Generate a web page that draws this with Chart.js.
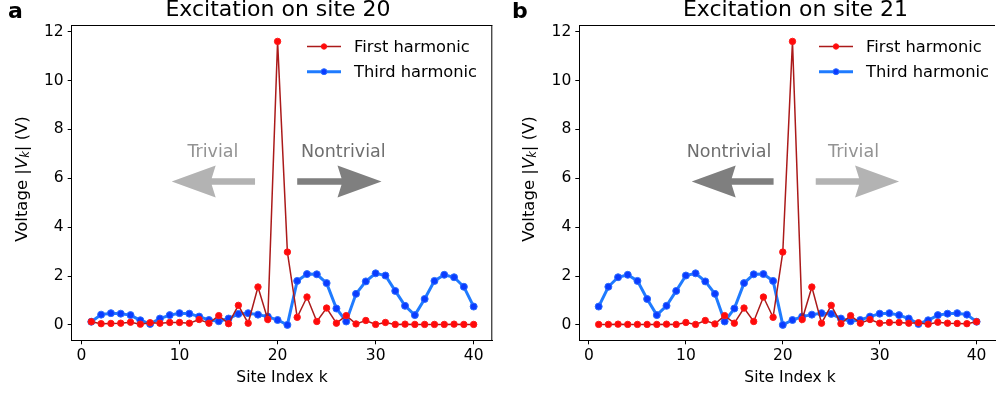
<!DOCTYPE html>
<html>
<head>
<meta charset="utf-8">
<script src="https://cdn.jsdelivr.net/npm/chart.js@4.4.1/dist/chart.umd.min.js"></script>
<style>
  html, body { margin: 0; padding: 0; background: #fff; }
  #wrap { position: relative; width: 1000px; height: 393px; overflow: hidden; }
  .panel { position: absolute; top: 0; width: 500px; height: 393px; }
</style>
</head>
<body>
<div id="wrap">
  <div class="panel" style="left:0"><canvas id="chartA" width="500" height="393"></canvas></div>
  <div class="panel" style="left:500px"><canvas id="chartB" width="500" height="393"></canvas></div>
</div>
<script>
// site index k
const sites = [1, 2, 3, 4, 5, 6, 7, 8, 9, 10, 11, 12, 13, 14, 15, 16, 17, 18, 19, 20,
  21, 22, 23, 24, 25, 26, 27, 28, 29, 30, 31, 32, 33, 34, 35, 36, 37, 38, 39, 40];

// excitation on site 20
const firstHarmonicA = [0.13, 0.05, 0.06, 0.07, 0.11, 0.03, 0.09, 0.07, 0.1, 0.1,
  0.07, 0.22, 0.07, 0.38, 0.05, 0.8, 0.07, 1.55, 0.22, 11.6,
  2.98, 0.31, 1.14, 0.14, 0.69, 0.07, 0.38, 0.04, 0.18, 0.02,
  0.1, 0.02, 0.03, 0.02, 0.02, 0.02, 0.02, 0.03, 0.02, 0.02];
const thirdHarmonicA = [0.13, 0.42, 0.48, 0.46, 0.4, 0.19, 0.04, 0.26, 0.4, 0.48,
  0.46, 0.34, 0.2, 0.15, 0.26, 0.45, 0.48, 0.42, 0.34, 0.2,
  0.0, 1.8, 2.08, 2.07, 1.71, 0.67, 0.14, 1.27, 1.78, 2.11,
  2.02, 1.39, 0.78, 0.4, 1.06, 1.8, 2.05, 1.95, 1.56, 0.75];

// excitation on site 21
const firstHarmonicB = [0.02, 0.02, 0.03, 0.02, 0.02, 0.02, 0.02, 0.03, 0.02, 0.1,
  0.02, 0.18, 0.04, 0.38, 0.07, 0.69, 0.14, 1.14, 0.31, 2.98,
  11.6, 0.22, 1.55, 0.07, 0.8, 0.05, 0.38, 0.07, 0.22, 0.07,
  0.1, 0.1, 0.07, 0.09, 0.03, 0.11, 0.07, 0.06, 0.05, 0.13];
const thirdHarmonicB = [0.75, 1.56, 1.95, 2.05, 1.8, 1.06, 0.4, 0.78, 1.39, 2.02,
  2.11, 1.78, 1.27, 0.14, 0.67, 1.71, 2.07, 2.08, 1.8, 0.0,
  0.2, 0.34, 0.42, 0.48, 0.45, 0.26, 0.15, 0.2, 0.34, 0.46,
  0.48, 0.4, 0.26, 0.04, 0.19, 0.4, 0.46, 0.48, 0.42, 0.13];

const xTicks = [0, 10, 20, 30, 40];
const yTicks = [0, 2, 4, 6, 8, 10, 12];
const seriesNames = ["First harmonic", "Third harmonic"];

const FONT = "'DejaVu Sans', Verdana, sans-serif";

const STYLE_FIRST = {
  line: "#ab1a1a", width: 1.5, fill: "#ff0a0a", edge: "#ff1a1a", radius: 3.2,
};
const STYLE_THIRD = {
  line: "#1f7bff", width: 3, fill: "#0a3cff", edge: "#2a6cff", radius: 3.5,
};

function toPoints(values) {
  return sites.map((k, i) => ({ x: k, y: values[i] }));
}

/**
 * 矢印を描く（tipX > tailX なら右向き）
 */
function drawArrow(ctx, tailX, tipX, cy, color) {
  const dir = tipX > tailX ? 1 : -1;
  const headLen = 44;
  const headHalf = 16;
  const shaftHalf = 3.3;
  const base = tipX - dir * headLen;
  ctx.save();
  ctx.fillStyle = color;
  ctx.beginPath();
  ctx.moveTo(tailX, cy - shaftHalf);
  ctx.lineTo(base + dir * 4, cy - shaftHalf);
  ctx.lineTo(base, cy - headHalf);
  ctx.lineTo(tipX, cy);
  ctx.lineTo(base, cy + headHalf);
  ctx.lineTo(base + dir * 4, cy + shaftHalf);
  ctx.lineTo(tailX, cy + shaftHalf);
  ctx.closePath();
  ctx.fill();
  ctx.restore();
}

// 枠、タイトル、凡例、矢印、軸ラベルを描くプラグイン
const decorPlugin = {
  id: "decor",
  afterDraw(chart, args, opts) {
    const ctx = chart.ctx;
    const area = chart.chartArea;
    const xs = chart.scales.x;
    const ys = chart.scales.y;

    // top / right spines
    ctx.save();
    ctx.strokeStyle = "#000";
    ctx.lineWidth = 1;
    ctx.beginPath();
    ctx.moveTo(area.left, area.top + 0.5);
    ctx.lineTo(area.right, area.top + 0.5);
    if (opts.rightSpine) {
      ctx.moveTo(area.right - 0.5, area.top);
      ctx.lineTo(area.right - 0.5, area.bottom);
    }
    ctx.stroke();
    ctx.restore();

    // arrows + labels
    opts.arrows.forEach((a) => {
      const cy = ys.getPixelForValue(a.y);
      drawArrow(ctx, xs.getPixelForValue(a.tail), xs.getPixelForValue(a.tip), cy, a.color);
      ctx.save();
      ctx.fillStyle = a.textColor;
      ctx.font = "17.5px " + FONT;
      ctx.textAlign = "center";
      ctx.textBaseline = "middle";
      ctx.fillText(a.text, xs.getPixelForValue(a.textX), ys.getPixelForValue(a.textY));
      ctx.restore();
    });

    // legend
    const styles = [STYLE_FIRST, STYLE_THIRD];
    seriesNames.forEach((name, i) => {
      const s = styles[i];
      const y = opts.legend.y + i * 25.2;
      const x0 = opts.legend.x;
      ctx.save();
      ctx.strokeStyle = s.line;
      ctx.lineWidth = s.width;
      ctx.beginPath();
      ctx.moveTo(x0, y);
      ctx.lineTo(x0 + 34, y);
      ctx.stroke();
      ctx.fillStyle = s.fill;
      ctx.strokeStyle = s.edge;
      ctx.lineWidth = 1;
      ctx.beginPath();
      ctx.arc(x0 + 17, y, s.radius - 0.5, 0, Math.PI * 2);
      ctx.fill();
      ctx.stroke();
      ctx.fillStyle = "#000";
      ctx.font = "16.3px " + FONT;
      ctx.textAlign = "left";
      ctx.textBaseline = "middle";
      ctx.fillText(name, x0 + 47, y + 1);
      ctx.restore();
    });

    // title and panel letter
    ctx.save();
    ctx.fillStyle = "#000";
    ctx.font = "22px " + FONT;
    ctx.textAlign = "center";
    ctx.textBaseline = "alphabetic";
    ctx.fillText(opts.title, opts.titleX, 16);
    ctx.font = "bold 22px " + FONT;
    ctx.textAlign = "left";
    ctx.fillText(opts.letter, opts.letterX, 18);
    ctx.restore();

    // x axis label
    ctx.save();
    ctx.fillStyle = "#000";
    ctx.font = "15.5px " + FONT;
    ctx.textAlign = "center";
    ctx.textBaseline = "alphabetic";
    ctx.fillText("Site Index k", opts.xLabelX, 381.5);
    ctx.restore();

    // y axis label: Voltage |V_k| (V)
    ctx.save();
    ctx.translate(opts.yLabelX, 179);
    ctx.rotate(-Math.PI / 2);
    ctx.fillStyle = "#000";
    ctx.textBaseline = "middle";
    const parts = [
      { t: "Voltage |", f: "16.5px " + FONT, dy: 0 },
      { t: "V", f: "italic 16.5px " + FONT, dy: 0 },
      { t: "k", f: "italic 11.5px " + FONT, dy: 3.5 },
      { t: "| (V)", f: "16.5px " + FONT, dy: 0 },
    ];
    let total = 0;
    parts.forEach((p) => {
      ctx.font = p.f;
      p.w = ctx.measureText(p.t).width;
      total += p.w;
    });
    let x = -total / 2;
    parts.forEach((p) => {
      ctx.font = p.f;
      ctx.textAlign = "left";
      ctx.fillText(p.t, x, p.dy);
      x += p.w;
    });
    ctx.restore();
  },
};

function makeChart(canvasId, firstValues, thirdValues, axisLeft, padRight, decor) {
  const canvas = document.getElementById(canvasId);
  if (!canvas) return;
  const ctx = canvas.getContext("2d");
  return new Chart(ctx, {
    type: "line",
    data: {
      datasets: [
        {
          label: seriesNames[0],
          data: toPoints(firstValues),
          borderColor: STYLE_FIRST.line,
          borderWidth: STYLE_FIRST.width,
          pointBackgroundColor: STYLE_FIRST.fill,
          pointBorderColor: STYLE_FIRST.edge,
          pointBorderWidth: 1,
          pointRadius: STYLE_FIRST.radius,
          tension: 0,
        },
        {
          label: seriesNames[1],
          data: toPoints(thirdValues),
          borderColor: STYLE_THIRD.line,
          borderWidth: STYLE_THIRD.width,
          pointBackgroundColor: STYLE_THIRD.fill,
          pointBorderColor: STYLE_THIRD.edge,
          pointBorderWidth: 1,
          pointRadius: STYLE_THIRD.radius,
          tension: 0,
        },
      ],
    },
    options: {
      responsive: false,
      animation: false,
      devicePixelRatio: 1,
      layout: { padding: { left: 0, top: 25, right: padRight, bottom: 0 } },
      scales: {
        x: {
          type: "linear",
          min: -1,
          max: 41.9,
          afterBuildTicks: (s) => { s.ticks = xTicks.map((v) => ({ value: v })); },
          afterFit: (s) => { s.height = 52.7; },
          grid: { drawOnChartArea: false, drawTicks: true, tickLength: 4, color: "#000" },
          border: { display: true, color: "#000", width: 1 },
          ticks: { color: "#000", font: { family: FONT, size: 15.5 }, padding: 2, maxRotation: 0 },
        },
        y: {
          type: "linear",
          min: -0.63,
          max: 12.27,
          afterBuildTicks: (s) => { s.ticks = yTicks.map((v) => ({ value: v })); },
          afterFit: (s) => { s.width = axisLeft; },
          grid: { drawOnChartArea: false, drawTicks: true, tickLength: 4, color: "#000" },
          border: { display: true, color: "#000", width: 1 },
          ticks: { color: "#000", font: { family: FONT, size: 15.5 }, padding: 4 },
        },
      },
      plugins: {
        legend: { display: false },
        tooltip: { enabled: false },
        decor: decor,
      },
    },
    plugins: [decorPlugin],
  });
}

window.chartA = makeChart("chartA", firstHarmonicA, thirdHarmonicA, 71.7, 7.7, {
  title: "Excitation on site 20",
  titleX: 278,
  letter: "a",
  letterX: 8,
  xLabelX: 282,
  yLabelX: 23,
  rightSpine: true,
  legend: { x: 307, y: 46.5 },
  arrows: [
    { tail: 17.7, tip: 9.2, y: 5.87, color: "#b3b3b3", text: "Trivial", textX: 13.4, textY: 7.07, textColor: "#939393" },
    { tail: 22.0, tip: 30.6, y: 5.87, color: "#7f7f7f", text: "Nontrivial", textX: 26.7, textY: 7.07, textColor: "#6e6e6e" },
  ],
});

window.chartB = makeChart("chartB", firstHarmonicB, thirdHarmonicB, 79.3, 0, {
  title: "Excitation on site 21",
  titleX: 295.5,
  letter: "b",
  letterX: 12,
  xLabelX: 290,
  yLabelX: 30,
  rightSpine: false,
  legend: { x: 319, y: 46.5 },
  arrows: [
    { tail: 19.05, tip: 10.6, y: 5.87, color: "#7f7f7f", text: "Nontrivial", textX: 14.45, textY: 7.07, textColor: "#6e6e6e" },
    { tail: 23.4, tip: 32.0, y: 5.87, color: "#b3b3b3", text: "Trivial", textX: 27.3, textY: 7.07, textColor: "#939393" },
  ],
});
</script>
</body>
</html>
